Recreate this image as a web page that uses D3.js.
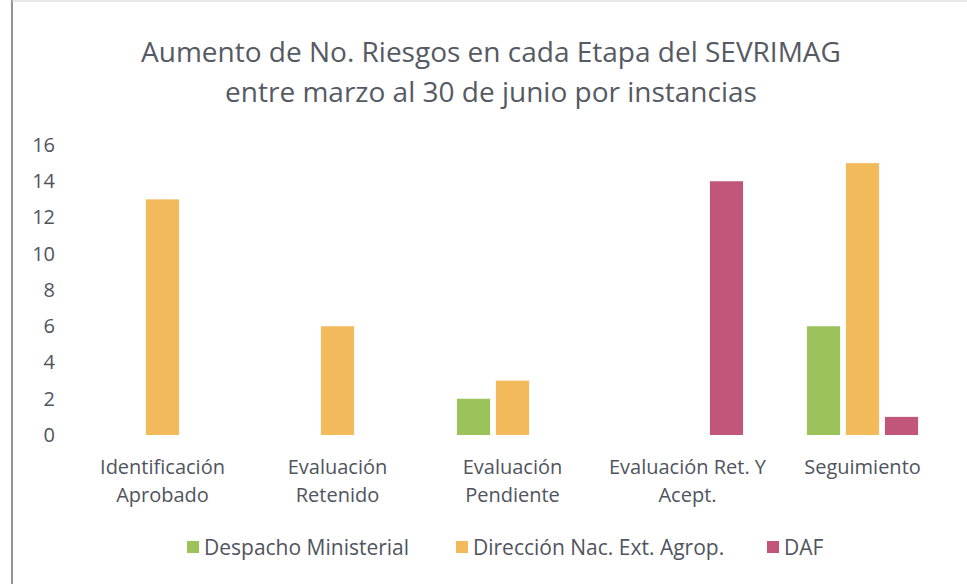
<!DOCTYPE html>
<html><head><meta charset="utf-8">
<script src="https://cdn.jsdelivr.net/npm/d3@7"></script>
<style>body{margin:0;background:#fff;} svg{display:block;}</style>
</head><body>
<script>
const categories = [["Identificación","Aprobado"],["Evaluación","Retenido"],["Evaluación","Pendiente"],["Evaluación Ret. Y","Acept."],["Seguimiento"]];
const series = ["Despacho Ministerial","Dirección Nac. Ext. Agrop.","DAF"];
const despacho = [0, 0, 2, 0, 6];
const direccion = [13, 6, 3, 0, 15];
const daf = [0, 0, 0, 14, 1];
const yTicks = [0,2,4,6,8,10,12,14,16];
const colors = ["#9BC25B","#F2BA5B","#C1567A"];
const values = [despacho, direccion, daf];

const W=967,H=584;
const svg=d3.select("body").append("svg").attr("width",W).attr("height",H);
svg.append("rect").attr("width",W).attr("height",H).attr("fill","#fff");
svg.append("line").attr("x1",12).attr("x2",12).attr("y1",0).attr("y2",H).attr("stroke","#6b6f77").attr("stroke-width",1.5);
svg.append("line").attr("x1",12).attr("x2",W).attr("y1",1).attr("y2",1).attr("stroke","#d0d0d0").attr("stroke-width",1);

const font="'Open Sans', 'Liberation Sans', sans-serif";
const textColor="#4f545e";

const title=svg.append("text").attr("text-anchor","middle").attr("font-family",font).attr("font-size",28).attr("fill","#555a63");
title.append("tspan").attr("x",491).attr("y",62).text("Aumento de No. Riesgos en cada Etapa del SEVRIMAG");
title.append("tspan").attr("x",491).attr("y",102).text("entre marzo al 30 de junio por instancias");

const keys=categories.map(c=>c.join(" "));
const x0=d3.scaleBand().domain(keys).range([75,950]);
const x1=d3.scaleBand().domain(series).range([29,146]).paddingInner(0.15).paddingOuter(0.075);
const y=d3.scaleLinear().domain([0,16]).range([435,145]);

// y axis labels
const yAxis=d3.axisLeft(y).tickValues(yTicks).tickSize(0).tickPadding(0);
const ga=svg.append("g").attr("transform","translate(55,0)").call(yAxis);
ga.select(".domain").remove();
ga.selectAll("text").attr("font-family",font).attr("font-size",20).attr("fill",textColor);

// bars
const groups=svg.selectAll("g.cat").data(keys).enter().append("g").attr("class","cat")
  .attr("transform",d=>`translate(${x0(d)},0)`);
groups.selectAll("rect").data((d,i)=>series.map((s,j)=>({s,v:values[j][i],c:colors[j]})).filter(e=>e.v>0))
  .enter().append("rect")
  .attr("x",d=>x1(d.s)).attr("width",x1.bandwidth())
  .attr("y",d=>y(d.v)).attr("height",d=>y(0)-y(d.v)).attr("fill",d=>d.c);

// category labels
categories.forEach((c,i)=>{
  const t=svg.append("text").attr("text-anchor","middle").attr("font-family",font).attr("font-size",20).attr("fill",textColor);
  c.forEach((line,k)=>t.append("tspan").attr("x",x0(keys[i])+x0.bandwidth()/2).attr("y",474+k*28).text(line));
});

// legend
const legX=[187,456,767];
series.forEach((s,j)=>{
  svg.append("rect").attr("x",legX[j]).attr("y",541).attr("width",12).attr("height",12).attr("fill",colors[j]);
  svg.append("text").attr("x",legX[j]+17).attr("y",555).attr("font-family",font).attr("font-size",21).attr("fill",textColor).text(s);
});
</script>
</body></html>
